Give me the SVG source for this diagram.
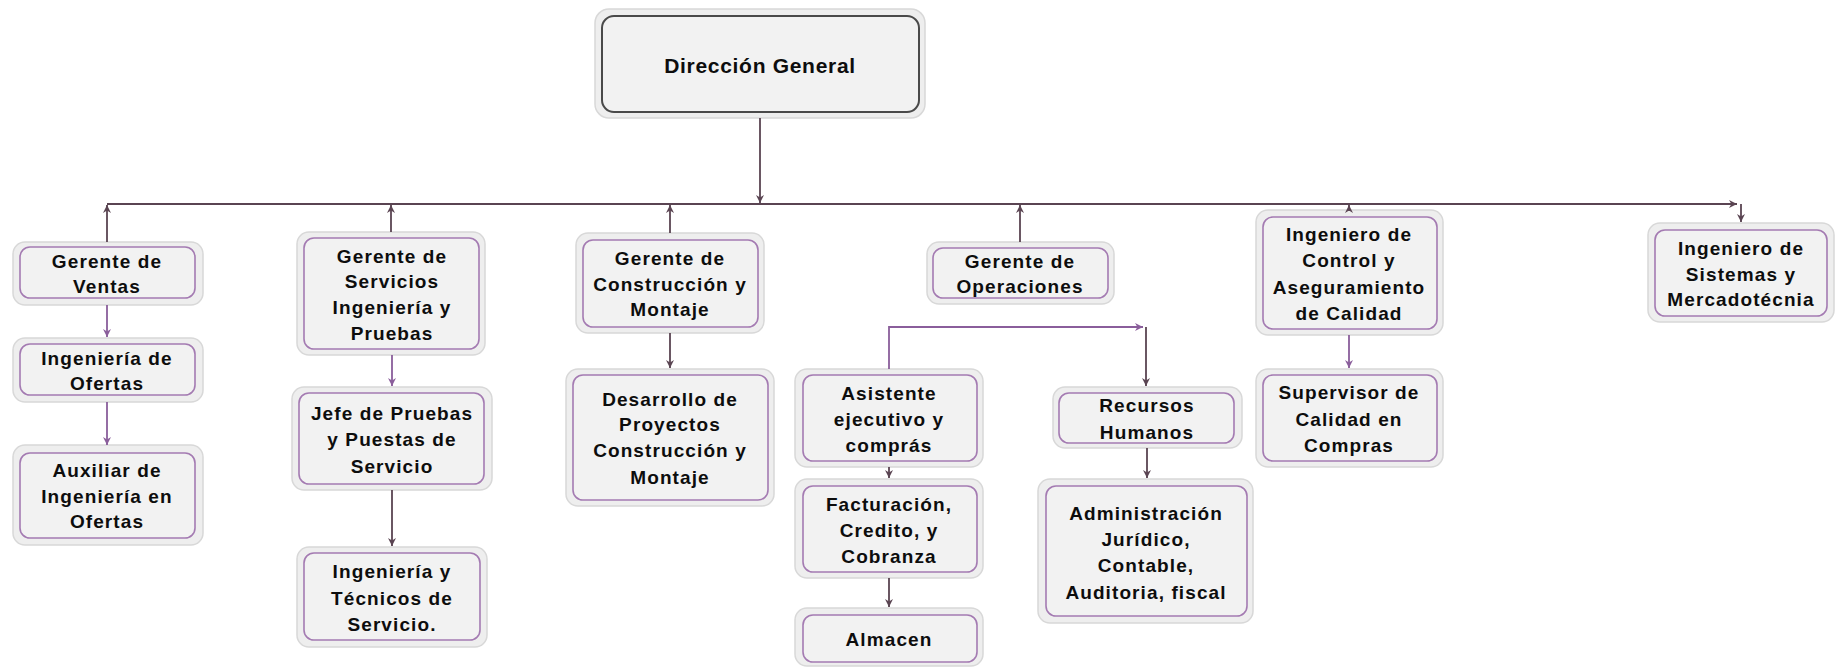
<svg xmlns="http://www.w3.org/2000/svg" width="1839" height="667" viewBox="0 0 1839 667">
<style>
.o{fill:#eeeeee;stroke:#d8d8d8;stroke-width:1.5}
.i{fill:#f2f2f2;stroke:#a47bb2;stroke-width:1.6}
.id{fill:#f2f2f2;stroke:#4a4a4a;stroke-width:2}
text{font-family:"Liberation Sans",Arial,sans-serif;font-weight:bold;font-size:19px;fill:#0d0d0d;text-anchor:middle;dominant-baseline:central;letter-spacing:1.1px}
.big{font-size:21px;letter-spacing:0.7px}
.cd{fill:none;stroke:#5a4452;stroke-width:1.8}
.cp{fill:none;stroke:#8a5e9b;stroke-width:1.8}
</style>
<defs>
<marker id="ad" viewBox="0 0 10 10" refX="10" refY="5" markerWidth="8" markerHeight="8" markerUnits="userSpaceOnUse" orient="auto"><path d="M0,0 L10,5 L0,10 L3,5 z" fill="#5a4452"/></marker>
<marker id="ap" viewBox="0 0 10 10" refX="10" refY="5" markerWidth="8" markerHeight="8" markerUnits="userSpaceOnUse" orient="auto"><path d="M0,0 L10,5 L0,10 L3,5 z" fill="#8a5e9b"/></marker>
</defs>
<rect width="1839" height="667" fill="#ffffff"/>

<g id="dir"><rect class="o" x="595" y="9" width="330" height="109" rx="14"/><rect class="id" x="602" y="16" width="317" height="96" rx="12"/><text class="big" x="760" y="65">Dirección General</text></g>

<g id="ventas"><rect class="o" x="13" y="242" width="190" height="63" rx="12"/><rect class="i" x="20" y="247" width="175" height="51" rx="10"/><text x="107" y="261">Gerente de</text><text x="107" y="286">Ventas</text></g>
<g id="ofertas"><rect class="o" x="13" y="338" width="190" height="64" rx="12"/><rect class="i" x="20" y="344" width="175" height="51" rx="10"/><text x="107" y="358">Ingeniería de</text><text x="107" y="383">Ofertas</text></g>
<g id="auxiliar"><rect class="o" x="13" y="445" width="190" height="100" rx="12"/><rect class="i" x="20" y="453" width="175" height="85" rx="10"/><text x="107" y="470">Auxiliar de</text><text x="107" y="496">Ingeniería en</text><text x="107" y="521">Ofertas</text></g>

<g id="servicios"><rect class="o" x="297" y="232" width="188" height="123" rx="12"/><rect class="i" x="304" y="238" width="175" height="111" rx="10"/><text x="392" y="256">Gerente de</text><text x="392" y="281">Servicios</text><text x="392" y="307">Ingeniería y</text><text x="392" y="333">Pruebas</text></g>
<g id="jefe"><rect class="o" x="292" y="387" width="200" height="103" rx="12"/><rect class="i" x="299" y="393" width="185" height="91" rx="10"/><text x="392" y="413">Jefe de Pruebas</text><text x="392" y="439">y Puestas de</text><text x="392" y="466">Servicio</text></g>
<g id="tecnicos"><rect class="o" x="297" y="547" width="190" height="100" rx="12"/><rect class="i" x="304" y="553" width="176" height="87" rx="10"/><text x="392" y="571">Ingeniería y</text><text x="392" y="598">Técnicos de</text><text x="392" y="624">Servicio.</text></g>

<g id="construccion"><rect class="o" x="576" y="233" width="188" height="100" rx="12"/><rect class="i" x="583" y="240" width="175" height="87" rx="10"/><text x="670" y="258">Gerente de</text><text x="670" y="284">Construcción y</text><text x="670" y="309">Montaje</text></g>
<g id="desarrollo"><rect class="o" x="566" y="369" width="208" height="137" rx="12"/><rect class="i" x="573" y="375" width="195" height="125" rx="10"/><text x="670" y="399">Desarrollo de</text><text x="670" y="424">Proyectos</text><text x="670" y="450">Construcción y</text><text x="670" y="477">Montaje</text></g>

<g id="operaciones"><rect class="o" x="927" y="242" width="187" height="62" rx="12"/><rect class="i" x="933" y="248" width="175" height="50" rx="10"/><text x="1020" y="261">Gerente de</text><text x="1020" y="286">Operaciones</text></g>
<g id="asistente"><rect class="o" x="795" y="369" width="188" height="98" rx="12"/><rect class="i" x="803" y="375" width="174" height="86" rx="10"/><text x="889" y="393">Asistente</text><text x="889" y="419">ejecutivo y</text><text x="889" y="445">comprás</text></g>
<g id="facturacion"><rect class="o" x="795" y="479" width="188" height="99" rx="12"/><rect class="i" x="803" y="486" width="174" height="86" rx="10"/><text x="889" y="504">Facturación,</text><text x="889" y="530">Credito, y</text><text x="889" y="556">Cobranza</text></g>
<g id="almacen"><rect class="o" x="795" y="608" width="188" height="58" rx="12"/><rect class="i" x="803" y="615" width="174" height="47" rx="10"/><text x="889" y="639">Almacen</text></g>
<g id="recursos"><rect class="o" x="1053" y="387" width="189" height="61" rx="12"/><rect class="i" x="1059" y="393" width="175" height="50" rx="10"/><text x="1147" y="405">Recursos</text><text x="1147" y="432">Humanos</text></g>
<g id="administracion"><rect class="o" x="1038" y="479" width="215" height="144" rx="12"/><rect class="i" x="1046" y="486" width="201" height="130" rx="10"/><text x="1146" y="513">Administración</text><text x="1146" y="539">Jurídico,</text><text x="1146" y="565">Contable,</text><text x="1146" y="592">Auditoria, fiscal</text></g>

<g id="calidad"><rect class="o" x="1256" y="210" width="187" height="125" rx="12"/><rect class="i" x="1263" y="217" width="174" height="112" rx="10"/><text x="1349" y="234">Ingeniero de</text><text x="1349" y="260">Control y</text><text x="1349" y="287">Aseguramiento</text><text x="1349" y="313">de Calidad</text></g>
<g id="supervisor"><rect class="o" x="1256" y="369" width="187" height="98" rx="12"/><rect class="i" x="1263" y="375" width="174" height="86" rx="10"/><text x="1349" y="392">Supervisor de</text><text x="1349" y="419">Calidad en</text><text x="1349" y="445">Compras</text></g>
<g id="sistemas"><rect class="o" x="1648" y="223" width="186" height="99" rx="12"/><rect class="i" x="1655" y="230" width="172" height="86" rx="10"/><text x="1741" y="248">Ingeniero de</text><text x="1741" y="274">Sistemas y</text><text x="1741" y="299">Mercadotécnia</text></g>

<g id="connectors">
<path class="cd" d="M760,118 V203" marker-end="url(#ad)"/>
<path class="cd" d="M107,204 H1737" marker-end="url(#ad)"/>
<path class="cd" d="M107,242 V205" marker-end="url(#ad)"/>
<path class="cd" d="M391,232 V205" marker-end="url(#ad)"/>
<path class="cd" d="M670,233 V205" marker-end="url(#ad)"/>
<path class="cd" d="M1020,242 V205" marker-end="url(#ad)"/>
<path class="cd" d="M1349,211 V205" marker-end="url(#ad)"/>
<path class="cd" d="M1741,204 V222" marker-end="url(#ad)"/>
<path class="cp" d="M107,305 V337" marker-end="url(#ap)"/>
<path class="cp" d="M107,402 V445" marker-end="url(#ap)"/>
<path class="cp" d="M392,355 V386" marker-end="url(#ap)"/>
<path class="cp" d="M1349,335 V368" marker-end="url(#ap)"/>
<path class="cd" d="M392,490 V546" marker-end="url(#ad)"/>
<path class="cd" d="M670,333 V368" marker-end="url(#ad)"/>
<path class="cd" d="M889,467 V478" marker-end="url(#ad)"/>
<path class="cd" d="M889,578 V607" marker-end="url(#ad)"/>
<path class="cd" d="M1147,448 V478" marker-end="url(#ad)"/>
<path class="cp" d="M889,369 V327 H1143" marker-end="url(#ap)"/>
<path class="cd" d="M1146,327 V386" marker-end="url(#ad)"/>
</g>
</svg>
